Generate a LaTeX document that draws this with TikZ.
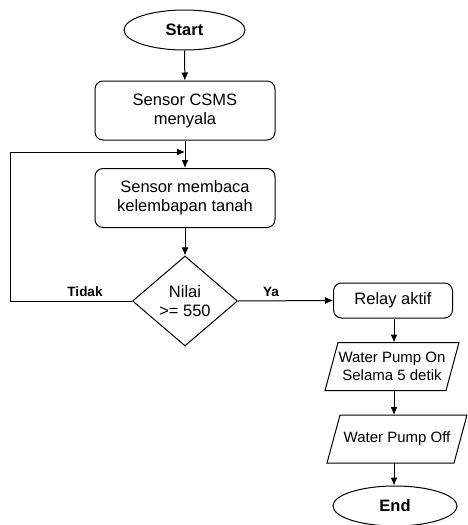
\documentclass[tikz,border=0pt]{standalone}
\usepackage{fontspec}
\setmainfont{Liberation Sans}
\usetikzlibrary{shapes.geometric,arrows.meta}
\begin{document}
\begin{tikzpicture}[x=1pt,y=-1pt,
  every node/.style={font=\fontsize{16.5}{19}\selectfont, align=center},
  term/.style={draw, ellipse, inner sep=0pt, minimum width=121pt, minimum height=40pt, font=\fontsize{16.5}{19}\selectfont\bfseries},
  proc/.style={draw, rectangle, rounded corners=8pt, minimum width=180pt, minimum height=59pt, inner sep=0pt},
  dec/.style={draw, diamond, inner sep=0pt, minimum width=105pt, minimum height=90pt},
  io/.style={rectangle, minimum height=47pt, inner sep=0pt, font=\fontsize{15}{18}\selectfont},
  lbl/.style={font=\fontsize{13.5}{16}\selectfont\bfseries},
  arr/.style={-{Latex[length=8pt,width=7pt]}, line width=1pt},
  line width=1pt]
\useasboundingbox (0,0) rectangle (467,525);
\node[term] (start) at (184.5,30) {Start};
\node[proc] (s1) at (185,110.5) {Sensor CSMS\\menyala};
\node[proc] (s2) at (185,198) {Sensor membaca\\kelembapan tanah};
\node[dec] (d) at (185,301) {Nilai\\>= 550};
\node[proc, minimum width=119pt, minimum height=35pt] (relay) at (393,300.5) {Relay aktif};
\node[io, minimum width=133pt] (p1) at (392,366.5) {Water Pump On\\Selama 5 detik};
\node[io, minimum width=139pt] (p2) at (397,439) {Water Pump Off};
\draw ([xshift=13pt]p1.north west) -- (p1.north east) -- ([xshift=-13pt]p1.south east) -- (p1.south west) -- cycle;
\draw ([xshift=13pt]p2.north west) -- (p2.north east) -- ([xshift=-13pt]p2.south east) -- (p2.south west) -- cycle;
\node[term, minimum width=124pt] (end) at (395,506) {End};
\coordinate (lc) at (185,152);
\coordinate (c1) at (10,301);
\coordinate (c2) at (10,152);
\draw[arr] (start) -- (s1);
\draw[arr] (s1) -- (s2);
\draw[arr] (s2) -- (d);
\draw[arr] (d.east) -- (relay.west);
\draw[arr] (d.west) -- (c1) -- (c2) -- (lc);
\draw[arr] (relay.south -| 394,0) -- (p1.north -| 394,0);
\draw[arr] (p1.south -| 394,0) -- (p2.north -| 394,0);
\draw[arr] (p2.south -| 394,0) -- (end.north -| 394,0);
\node[lbl] (tidak) at (85,292) {Tidak};
\node[lbl] (ya) at (271,292) {Ya};
\end{tikzpicture}
\end{document}
